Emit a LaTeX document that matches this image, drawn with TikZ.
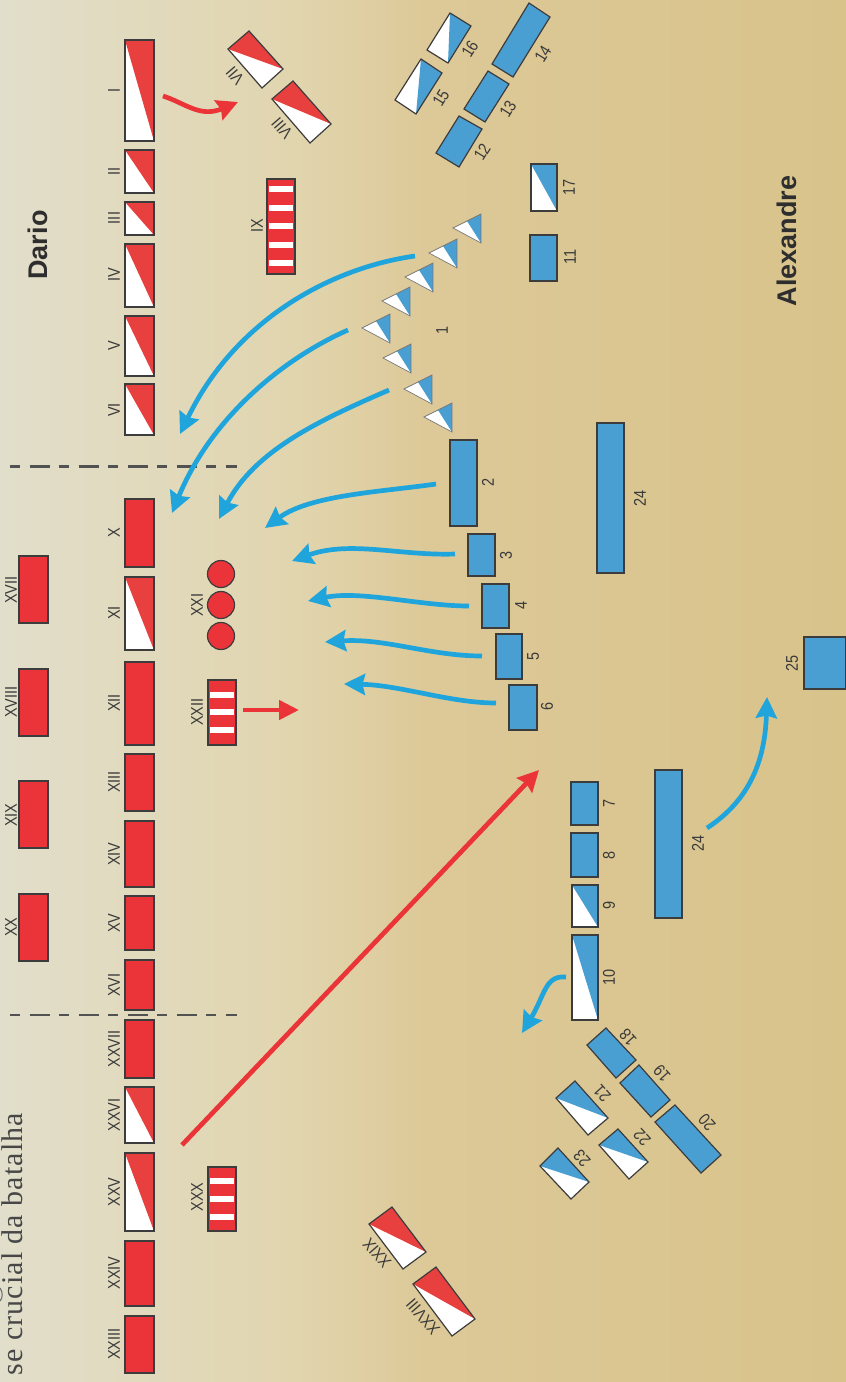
\documentclass[tikz,border=0pt]{standalone}
\usepackage{fontspec}
\setmainfont{Liberation Sans}
\newfontfamily\serifttl[LetterSpace=3.5]{Liberation Serif}
\usetikzlibrary{arrows.meta}
\definecolor{redu}{HTML}{EA343A}
\definecolor{redh}{HTML}{E8403F}
\definecolor{blueu}{HTML}{4A9FD2}
\definecolor{arrb}{HTML}{1FA5DC}
\definecolor{arrr}{HTML}{EA3438}
\definecolor{edgec}{HTML}{3C3C3C}
\definecolor{labc}{HTML}{3A3A3A}
\definecolor{bga}{HTML}{E1DECB}
\definecolor{bgb}{HTML}{E1D5AE}
\definecolor{bgc}{HTML}{DDC998}
\definecolor{bgd}{HTML}{D8C38B}
\pgfdeclarehorizontalshading{bgshade}{100bp}{
  color(0bp)=(bga); color(25bp)=(bga); color(42.5bp)=(bgb); color(50bp)=(bgc); color(75bp)=(bgd); color(100bp)=(bgd)}
\newcommand{\lbfont}{\fontsize{17}{17}\selectfont}
\tikzset{
  unitedge/.style={draw=edgec,line width=1.2pt,line join=miter},
  lab/.style={rotate=#1,xscale=.85,font=\lbfont,inner sep=0pt,text=labc},
  lab/.default=90,
  team/.style={font=\fontsize{27}{27}\selectfont\bfseries,rotate=90,inner sep=0pt,text=black!82},
  barr/.style={draw=arrb,line width=4.7pt,-{Stealth[length=21pt,width=21pt,inset=2.5pt]}},
  rarr/.style={draw=arrr,line width=4.7pt,-{Stealth[length=21pt,width=21pt,inset=2.5pt]}},
  sep/.style={draw=black!68,line width=2.5pt,dash pattern=on 10pt off 9.5pt on 20pt off 9.5pt},
}
\newcommand{\su}[5]{\fill[#1] (#2,#3) rectangle (#4,#5);\draw[unitedge] (#2,#3) rectangle (#4,#5);}
\newcommand{\hu}[5]{\fill[white] (#2,#3) rectangle (#4,#5);\fill[#1] (#2,#3)--(#4,#3)--(#4,#5)--cycle;\draw[unitedge] (#2,#3) rectangle (#4,#5);}
\newcommand{\sr}[5]{\fill[#1] #2--#3--#4--#5--cycle;\draw[unitedge] #2--#3--#4--#5--cycle;}
\newcommand{\hr}[5]{\fill[white] #2--#3--#4--#5--cycle;\fill[#1] #2--#3--#4--cycle;\draw[unitedge] #2--#3--#4--#5--cycle;}
\newcommand{\caval}[2]{\fill[white] (#1,#2)--(#1+28,#2-14)--(#1+28,#2+15)--cycle;
  \fill[blueu] (#1+14,#2-7)--(#1+28,#2-14)--(#1+28,#2+15)--cycle;
  \draw[edgec!70,line width=.7pt] (#1,#2)--(#1+28,#2-14)--(#1+28,#2+15)--cycle;}
\newcommand{\stripe}[3]{\fill[white] (#1,#3-3) rectangle (#2,#3+3);}
\begin{document}
\begin{tikzpicture}[x=1pt,y=-1pt]
\useasboundingbox (0,0) rectangle (846,1382);
\shade[shading=bgshade] (0,0) rectangle (846,1382);
\node[font=\serifttl\fontsize{30}{30}\selectfont,rotate=90,anchor=base east,inner sep=0pt,text=black!72] (title) at (22,1113) {se crucial da batalha};
\draw[black!60,line width=1pt] (0,1288) .. controls (3,1292) and (3,1298) .. (0,1301);
\node[team] (dario) at (38,245) {Dario};
\node[team] (alex) at (787,241) {Alexandre};
\coordinate (sepa1) at (10,466.5);\coordinate (sepa2) at (237,466.5);
\coordinate (sepb1) at (10,1015);\coordinate (sepb2) at (237,1015);
\draw[sep] (sepa1)--(sepa2);
\draw[sep] (sepb1)--(sepb2);
\hu{redh}{125}{40}{154}{141}
\hu{redh}{125}{150}{154}{193}
\hu{redh}{125}{202}{154}{235}
\hu{redh}{125}{244}{154}{307}
\hu{redh}{125}{316}{154}{376}
\hu{redh}{125}{384}{154}{435}
\su{redu}{125}{499}{154}{567}
\hu{redh}{125}{577}{154}{650}
\su{redu}{125}{662}{154}{745}
\su{redu}{125}{754}{154}{811}
\su{redu}{125}{821}{154}{887}
\su{redu}{125}{896}{154}{950}
\su{redu}{125}{960}{154}{1010}
\su{redu}{125}{1020}{154}{1078}
\hu{redh}{125}{1087}{154}{1143}
\hu{redh}{125}{1153}{154}{1231}
\su{redu}{125}{1241}{154}{1306}
\su{redu}{125}{1316}{154}{1373}
\node[lab] (rI) at (114,90) {I};
\node[lab] (rII) at (114,171) {II};
\node[lab] (rIII) at (114,218) {III};
\node[lab] (rIV) at (114,275) {IV};
\node[lab] (rV) at (114,346) {V};
\node[lab] (rVI) at (114,410) {VI};
\node[lab] (rX) at (114,533) {X};
\node[lab] (rXI) at (114,613) {XI};
\node[lab] (rXII) at (114,703) {XII};
\node[lab] (rXIII) at (114,782) {XIII};
\node[lab] (rXIV) at (114,854) {XIV};
\node[lab] (rXV) at (114,923) {XV};
\node[lab] (rXVI) at (114,985) {XVI};
\node[lab] (rXXVII) at (114,1049) {XXVII};
\node[lab] (rXXVI) at (114,1115) {XXVI};
\node[lab] (rXXV) at (114,1192) {XXV};
\node[lab] (rXXIV) at (114,1273) {XXIV};
\node[lab] (rXXIII) at (114,1344) {XXIII};
\su{redu}{19}{556}{48}{623}
\su{redu}{19}{669}{48}{736}
\su{redu}{19}{781}{48}{848}
\su{redu}{19}{894}{48}{961}
\node[lab] (rXVII) at (11,590) {XVII};
\node[lab] (rXVIII) at (11,702) {XVIII};
\node[lab] (rXIX) at (11,815) {XIX};
\node[lab] (rXX) at (11,927) {XX};
\hr{redh}{(228,49)}{(249,31)}{(283,69)}{(262,88)}
\hr{redh}{(272,99)}{(293,81)}{(331,124)}{(310,143)}
\hr{redh}{(369,1224)}{(392,1207)}{(426,1252)}{(403,1269)}
\hr{redh}{(413,1284)}{(436,1267)}{(475,1319)}{(452,1336)}
\node[lab=131] (rVII) at (235,76) {VII};
\node[lab=131] (rVIII) at (282,128) {VIII};
\node[lab=131] (rXXIX) at (377,1253) {XXIX};
\node[lab=131] (rXXVIII) at (423,1317) {XXVIII};
\su{redu}{267}{179}{295}{274}
\foreach \s in {189,207.5,226,245,263}{\stripe{269}{293}{\s}}
\node[lab] (rIX) at (257,226) {IX};
\su{redu}{208}{680}{236}{745}
\foreach \s in {695,712,730}{\stripe{210}{234}{\s}}
\node[lab] (rXXII) at (197,712) {XXII};
\su{redu}{208}{1167}{236}{1231}
\foreach \s in {1181,1199,1217}{\stripe{210}{234}{\s}}
\node[lab] (rXXX) at (197,1197) {XXX};
\foreach \y in {574,605,636}{\fill[redu,draw=edgec,line width=1.2pt] (221,\y) circle (13.5);}
\node[lab] (rXXI) at (197,605) {XXI};
\caval{453}{228}\caval{429}{253}\caval{405}{277}\caval{382}{301}
\caval{362}{328}\caval{383}{358}\caval{404}{389}\caval{424}{417}
\node[lab] (b1) at (442,330) {1};
\su{blueu}{450}{440}{477}{526}
\su{blueu}{468}{534}{495}{576}
\su{blueu}{482}{584}{509}{628}
\su{blueu}{496}{634}{522}{679}
\su{blueu}{509}{685}{537}{730}
\su{blueu}{571}{782}{598}{825}
\su{blueu}{571}{833}{598}{877}
\hu{blueu}{572}{885}{598}{927}
\hu{blueu}{572}{935}{598}{1020}
\su{blueu}{530}{235}{557}{281}
\hu{blueu}{531}{164}{557}{211}
\su{blueu}{597}{423}{624}{573}
\su{blueu}{655}{770}{682}{918}
\su{blueu}{804}{637}{846}{689}
\node[lab] (b2) at (488,482) {2};
\node[lab] (b3) at (506,555) {3};
\node[lab] (b4) at (521,605) {4};
\node[lab] (b5) at (533,656) {5};
\node[lab] (b6) at (547,706) {6};
\node[lab] (b7) at (609,803) {7};
\node[lab] (b8) at (609,855) {8};
\node[lab] (b9) at (609,905) {9};
\node[lab] (b10) at (609,977) {10};
\node[lab] (b11) at (570,257) {11};
\node[lab] (b17) at (569,187) {17};
\node[lab] (b24a) at (640,498) {24};
\node[lab] (b24b) at (698,843) {24};
\node[lab] (b25) at (792,663) {25};
\sr{blueu}{(529,3)}{(550,17)}{(513,77)}{(492,64)}
\sr{blueu}{(488,71)}{(509,84)}{(485,122)}{(464,109)}
\sr{blueu}{(459,116)}{(482,129)}{(459,167)}{(436,153)}
\hr{blueu}{(421,59)}{(442,73)}{(416,114)}{(395,100)}
\hr{blueu}{(450,13)}{(471,26)}{(448,63)}{(427,50)}
\sr{blueu}{(606,1028)}{(636,1060)}{(616,1078)}{(587,1045)}
\sr{blueu}{(639,1065)}{(670,1100)}{(651,1117)}{(620,1083)}
\sr{blueu}{(675,1105)}{(721,1155)}{(701,1173)}{(655,1122)}
\hr{blueu}{(556,1098)}{(575,1081)}{(608,1118)}{(588,1135)}
\hr{blueu}{(599,1145)}{(618,1129)}{(648,1162)}{(629,1179)}
\hr{blueu}{(540,1166)}{(558,1148)}{(589,1182)}{(571,1199)}
\node[lab=58] (b16) at (470,49) {16};
\node[lab=58] (b15) at (441,98) {15};
\node[lab=58] (b14) at (543,54) {14};
\node[lab=58] (b13) at (508,109) {13};
\node[lab=58] (b12) at (482,152) {12};
\node[lab=132] (b18) at (628,1037) {18};
\node[lab=132] (b19) at (662,1073) {19};
\node[lab=132] (b20) at (707,1122) {20};
\node[lab=132] (b21) at (602,1093) {21};
\node[lab=132] (b22) at (642,1137) {22};
\node[lab=132] (b23) at (582,1158) {23};
\coordinate (a1s) at (415,256);\coordinate (a1e) at (180,434);
\coordinate (a2s) at (348,330);\coordinate (a2e) at (172,513);
\coordinate (a3s) at (389,390);\coordinate (a3e) at (219,519);
\coordinate (a4s) at (436,484);\coordinate (a4e) at (265,528);
\coordinate (a5s) at (455,554);\coordinate (a5e) at (292,561);
\coordinate (a6s) at (469,606);\coordinate (a6e) at (308,601);
\coordinate (a7s) at (482,656);\coordinate (a7e) at (325,642);
\coordinate (a8s) at (496,703);\coordinate (a8e) at (344,684);
\coordinate (a9s) at (707,828);\coordinate (a9e) at (767,697);
\coordinate (a10s) at (566,977);\coordinate (a10e) at (522,1033);
\coordinate (r1s) at (163,96);\coordinate (r1e) at (238,102);
\coordinate (r2s) at (243,710);\coordinate (r2e) at (299,710);
\coordinate (r3s) at (182,1145);\coordinate (r3e) at (539,770);
\draw[barr] (a1s) .. controls (330,268) and (235,320) .. (a1e);
\draw[barr] (a2s) .. controls (280,360) and (210,420) .. (a2e);
\draw[barr] (a3s) .. controls (320,420) and (255,450) .. (a3e);
\draw[barr] (a4s) .. controls (380,492) and (310,495) .. (a4e);
\draw[barr] (a5s) .. controls (400,556) and (350,540) .. (a5e);
\draw[barr] (a6s) .. controls (420,606) and (360,590) .. (a6e);
\draw[barr] (a7s) .. controls (430,656) and (385,638) .. (a7e);
\draw[barr] (a8s) .. controls (450,703) and (400,685) .. (a8e);
\draw[barr] (a9s) .. controls (750,800) and (765,760) .. (a9e);
\draw[barr] (a10s) .. controls (545,975) and (545,995) .. (a10e);
\draw[rarr] (r1s) .. controls (185,103) and (200,118) .. (r1e);
\draw[rarr,-{Triangle[length=20pt,width=19pt]}] (r2s)--(r2e);
\draw[rarr] (r3s)--(r3e);
\end{tikzpicture}
\end{document}
